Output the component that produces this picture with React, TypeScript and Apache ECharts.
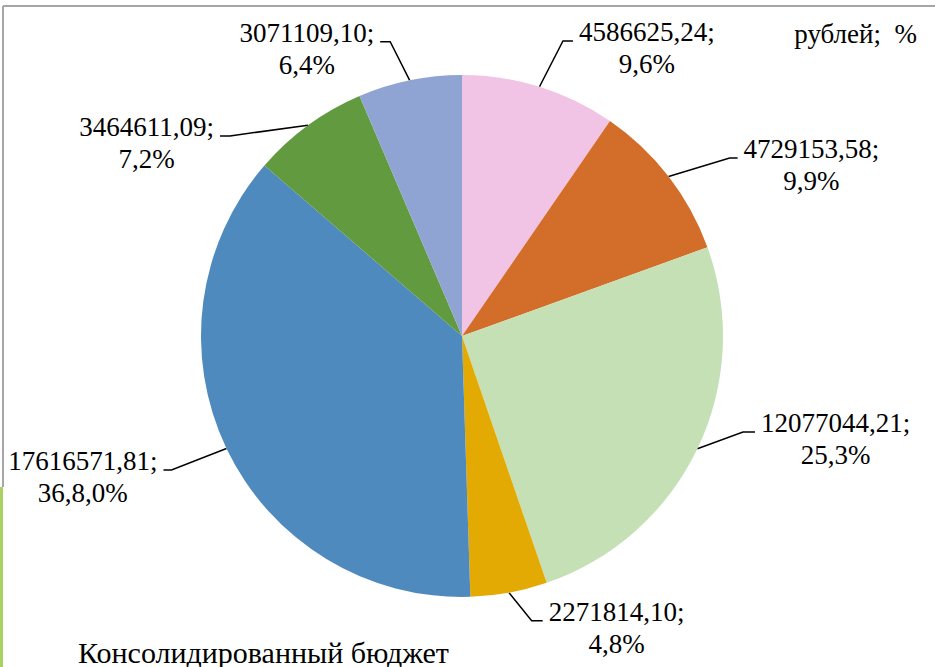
import React, { useEffect, useRef } from "react";
import * as echarts from "echarts";

const categories = ["Доля 1", "Доля 2", "Доля 3", "Доля 4", "Доля 5", "Доля 6", "Доля 7"];
const values = [4586625.24, 4729153.58, 12077044.21, 2271814.1, 17616571.81, 3464611.09, 3071109.1];
const percentLabels = ["9,6%", "9,9%", "25,3%", "4,8%", "36,8,0%", "7,2%", "6,4%"];
const colors = ["#F1C3E4", "#D36E2A", "#C5E0B5", "#E2AA02", "#4F8ABE", "#629A3F", "#8FA4D3"];
// leader line: end of horizontal segment relative to anchor on the edge [dx, dy, horizontal length]
const leaders: [number, number, number][] = [
  [33.5, -45.8, 10],
  [69, -18.6, 8],
  [57.6, -16.8, 12],
  [33.6, 28, 11],
  [-63, 21.6, 8],
  [-88, 10.6, 10],
  [-29.5, -38.6, 10],
];
const unitText = "рублей;\u00a0 %";
const bottomText = "Консолидированный бюджет";

const fmt = (v: number) => v.toFixed(2).replace(".", ",");

export default function App() {
  const ref = useRef<HTMLDivElement>(null);
  useEffect(() => {
    document.body.style.margin = "0";
    const chart = echarts.init(ref.current!, undefined, { renderer: "svg" });
    const font = "Liberation Serif";
    const gap = 6;
    const textShift = 7;
    chart.setOption({
      animation: false,
      backgroundColor: "#ffffff",
      graphic: [
        { type: "line", shape: { x1: 3, y1: 6, x2: 935, y2: 6 }, style: { stroke: "#A6A6A6", lineWidth: 2 } },
        { type: "line", shape: { x1: 3, y1: 6, x2: 3, y2: 487 }, style: { stroke: "#A6A6A6", lineWidth: 2 } },
        { type: "rect", shape: { x: 0, y: 487, width: 3, height: 180 }, style: { fill: "#A9D162" } },
        {
          type: "text",
          style: {
            text: unitText, x: 917, y: 34, align: "right", verticalAlign: "middle",
            fontFamily: font, fontSize: 27, fill: "#000",
          },
        },
        {
          type: "text",
          style: {
            text: bottomText, x: 78, y: 652, align: "left", verticalAlign: "middle",
            fontFamily: font, fontSize: 30, fill: "#000",
          },
        },
      ],
      series: [
        {
          type: "pie",
          center: [462, 336],
          radius: [0, 261],
          startAngle: 90,
          clockwise: true,
          avoidLabelOverlap: false,
          label: {
            show: true,
            position: "outside",
            fontFamily: font,
            fontSize: 27,
            lineHeight: 32,
            color: "#000",
            formatter: (p: any) => `${fmt(values[p.dataIndex])};\n${percentLabels[p.dataIndex]}`,
          },
          labelLine: { show: true, length: 20, length2: 10, lineStyle: { color: "#000", width: 1.5 } },
          labelLayout: (params: any) => {
            const pts = params.labelLinePoints;
            if (!pts) return {};
            const [ax, ay] = pts[0];
            const [ox, oy, h] = leaders[params.dataIndex];
            const sign = ox < 0 ? -1 : 1;
            const ex = ax + ox;
            const ey = ay + oy;
            const w = params.labelRect.width;
            return {
              x: ex + sign * (gap + w / 2),
              y: ey + textShift,
              align: "center",
              verticalAlign: "middle",
              labelLinePoints: [
                [ax, ay],
                [ex - sign * h, ey],
                [ex, ey],
              ],
            };
          },
          itemStyle: { borderWidth: 0 },
          emphasis: { disabled: true },
          data: categories.map((name, i) => ({ name, value: values[i], itemStyle: { color: colors[i] } })),
        },
      ],
    });
    return () => chart.dispose();
  }, []);
  return <div ref={ref} style={{ width: 935, height: 667 }} />;
}
